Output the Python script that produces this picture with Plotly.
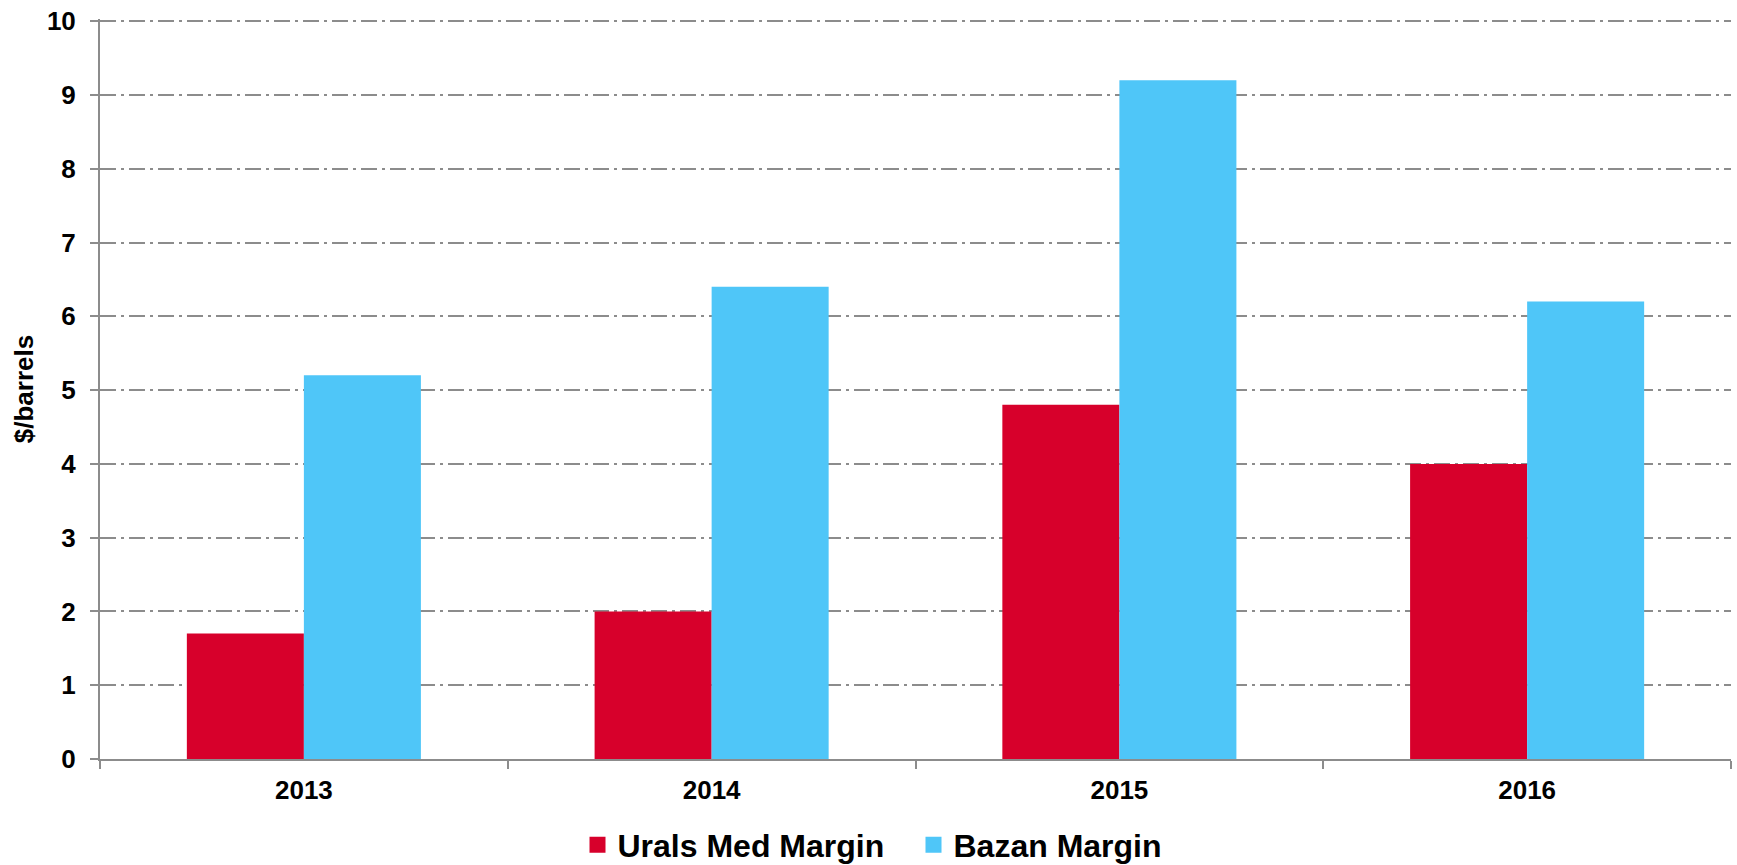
import plotly.graph_objects as go

years = ["2013", "2014", "2015", "2016"]
urals = [1.7, 2.0, 4.8, 4.0]
bazan = [5.2, 6.4, 9.2, 6.2]
y_ticks = [0, 1, 2, 3, 4, 5, 6, 7, 8, 9, 10]
series_names = ["Urals Med Margin", "Bazan Margin"]

RED = "#D7002B"
BLUE = "#4FC6F8"
GRAY = "#8C8C8C"
FONT = "Liberation Sans"
FS = 26
LFS = 32

W, H = 1737, 865

fig = go.Figure()
for name, vals, col in [(series_names[0], urals, RED), (series_names[1], bazan, BLUE)]:
    fig.add_trace(go.Bar(x=years, y=vals, name=name, legendgroup=name, showlegend=False,
                         marker=dict(color=col, line=dict(width=0))))
# legend entries (square swatches)
for name, col in [(series_names[0], RED), (series_names[1], BLUE)]:
    fig.add_trace(go.Scatter(x=[None], y=[None], mode="markers", name=name, legendgroup=name,
                             marker=dict(symbol="square", size=17, color=col, line=dict(width=0)),
                             hoverinfo="skip"))

fig.update_layout(
    width=W, height=H,
    margin=dict(l=100, r=6, t=19, b=106, autoexpand=False),
    plot_bgcolor="white", paper_bgcolor="white",
    barmode="group", bargap=0.426, bargroupgap=0,
    font=dict(family=FONT, size=FS, color="black"),
    showlegend=True,
    legend=dict(
        orientation="h", xref="container", yref="container",
        x=577.5 / W, xanchor="left", y=(H - 845) / H, yanchor="middle",
        font=dict(family=FONT, size=LFS, color="black", weight="bold"),
        itemwidth=30, itemsizing="trace", tracegroupgap=0, bgcolor="rgba(0,0,0,0)",
        entrywidth=291, entrywidthmode="pixels",
    ),
)
fig.update_xaxes(
    type="category", showline=True, linecolor=GRAY, linewidth=2,
    ticks="outside", tickson="boundaries", ticklen=8, tickwidth=2, tickcolor=GRAY,
    tickfont=dict(family=FONT, size=FS, color="black", weight="bold"),
    showgrid=False, ticklabelstandoff=7,
)
fig.update_yaxes(
    range=[0, 10.03], tickvals=y_ticks, ticktext=[str(v) for v in y_ticks],
    showline=True, linecolor=GRAY, linewidth=2,
    ticks="outside", ticklen=8, tickwidth=2, tickcolor=GRAY,
    tickfont=dict(family=FONT, size=FS, color="black", weight="bold"),
    ticklabeloverflow="allow",
    showgrid=True, gridcolor=GRAY, gridwidth=1.5, griddash="16px,5px,3px,5px",
    zeroline=False, ticklabelstandoff=9,
    title=dict(text="$/barrels", font=dict(family=FONT, size=FS, color="black", weight="bold"), standoff=6),
)

fig.write_html("out.html", config={"displayModeBar": False},
               post_script="document.body.style.margin='0px';")
